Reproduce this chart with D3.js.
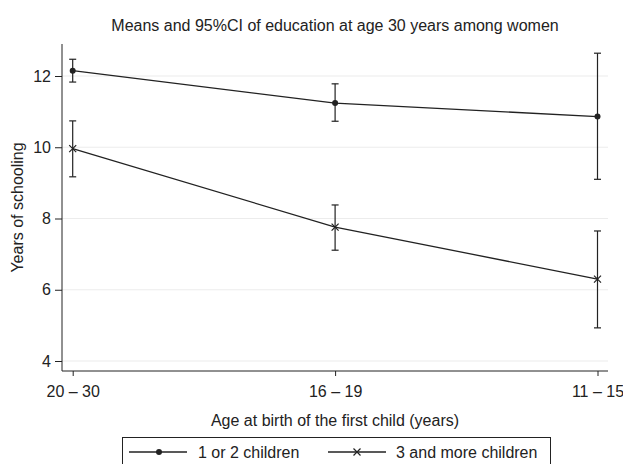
<!DOCTYPE html>
<html><head><meta charset="utf-8">
<script src="https://cdn.jsdelivr.net/npm/d3@7"></script>
<style>body{margin:0;background:#fff}svg{display:block}text{font-family:"Liberation Sans",Arial,Helvetica,sans-serif;fill:#222}</style>
</head><body>
<svg id="c" width="623" height="464"></svg>
<script>
const categories = ["20 – 30", "16 – 19", "11 – 15"];
const seriesNames = ["1 or 2 children", "3 and more children"];
const meanFew  = [12.15, 11.24, 10.86];
const lowFew   = [11.83, 10.73, 9.10];
const highFew  = [12.47, 11.78, 12.64];
const meanMany = [9.96, 7.76, 6.30];
const lowMany  = [9.17, 7.11, 4.93];
const highMany = [10.74, 8.38, 7.65];
const yTicks = [4, 6, 8, 10, 12];

const svg = d3.select("#c");
const L = 62, R = 608, T = 44, B = 371;
const x = d3.scalePoint().domain(categories).range([72.7, 597.5]);
const y = d3.scaleLinear().domain([4, 12]).range([361, 76]);
const ink = "#222";
const FS = "16px";

// gridlines
svg.append("g").selectAll("line").data(yTicks).join("line")
  .attr("x1", L).attr("x2", R).attr("y1", d => y(d)).attr("y2", d => y(d))
  .attr("stroke", "#ececec").attr("stroke-width", 1.2);

// axes
const yAx = svg.append("g").attr("transform", `translate(${L},0)`)
  .call(d3.axisLeft(y).tickValues(yTicks).tickSize(7).tickPadding(4).tickFormat(d3.format("d")));
yAx.select(".domain").remove();
yAx.selectAll("line").attr("stroke", ink);
yAx.selectAll("text").style("font-size", FS).attr("fill", ink);
svg.append("line").attr("x1", L).attr("x2", L).attr("y1", T).attr("y2", B).attr("stroke", ink);

const xAx = svg.append("g").attr("transform", `translate(0,${B})`)
  .call(d3.axisBottom(x).tickSize(5).tickPadding(10));
xAx.select(".domain").remove();
xAx.selectAll("line").attr("stroke", ink);
xAx.selectAll("text").style("font-size", FS).attr("fill", ink);
svg.append("line").attr("x1", L).attr("x2", R).attr("y1", B).attr("y2", B).attr("stroke", ink);

// titles
svg.append("text").attr("x", (L + R) / 2).attr("y", 25).attr("text-anchor", "middle").attr("dominant-baseline", "central")
  .style("font-size", FS).text("Means and 95%CI of education at age 30 years among women");
svg.append("text").attr("x", (L + R) / 2).attr("y", 420).attr("text-anchor", "middle").attr("dominant-baseline", "central")
  .style("font-size", FS).text("Age at birth of the first child (years)");
svg.append("text").attr("transform", `translate(17,${(T + B) / 2}) rotate(-90)`).attr("text-anchor", "middle")
  .attr("dominant-baseline", "central").style("font-size", FS).text("Years of schooling");

function drawSeries(mean, low, high, marker) {
  const g = svg.append("g");
  const line = d3.line().x((d, i) => x(categories[i])).y(d => y(d));
  g.append("path").datum(mean).attr("d", line).attr("fill", "none").attr("stroke", ink).attr("stroke-width", 1.3);
  categories.forEach((c, i) => {
    const cx = x(c);
    g.append("line").attr("x1", cx).attr("x2", cx).attr("y1", y(low[i])).attr("y2", y(high[i])).attr("stroke", ink).attr("stroke-width", 1.2);
    [low[i], high[i]].forEach(v => g.append("line").attr("x1", cx - 3.5).attr("x2", cx + 3.5).attr("y1", y(v)).attr("y2", y(v)).attr("stroke", ink).attr("stroke-width", 1.2));
    marker(g, cx, y(mean[i]));
  });
}
const dot = (g, cx, cy) => g.append("circle").attr("cx", cx).attr("cy", cy).attr("r", 3).attr("fill", ink);
const cross = (g, cx, cy) => g.append("path").attr("d", `M${cx-3.5},${cy-3.5}L${cx+3.5},${cy+3.5}M${cx-3.5},${cy+3.5}L${cx+3.5},${cy-3.5}`).attr("stroke", ink).attr("stroke-width", 1.2);
drawSeries(meanFew, lowFew, highFew, dot);
drawSeries(meanMany, lowMany, highMany, cross);

// legend
const lg = svg.append("g");
lg.append("rect").attr("x", 122.5).attr("y", 437.5).attr("width", 428).attr("height", 40).attr("fill", "none").attr("stroke", ink);
const ly = 452;
lg.append("line").attr("x1", 129).attr("x2", 187).attr("y1", ly).attr("y2", ly).attr("stroke", ink).attr("stroke-width", 1.3);
dot(lg, 159, ly);
lg.append("text").attr("x", 198).attr("y", ly).attr("dominant-baseline", "central").style("font-size", FS).text(seriesNames[0]);
lg.append("line").attr("x1", 328).attr("x2", 386).attr("y1", ly).attr("y2", ly).attr("stroke", ink).attr("stroke-width", 1.3);
cross(lg, 357, ly);
lg.append("text").attr("x", 396).attr("y", ly).attr("dominant-baseline", "central").style("font-size", FS).text(seriesNames[1]);
</script>
</body></html>
